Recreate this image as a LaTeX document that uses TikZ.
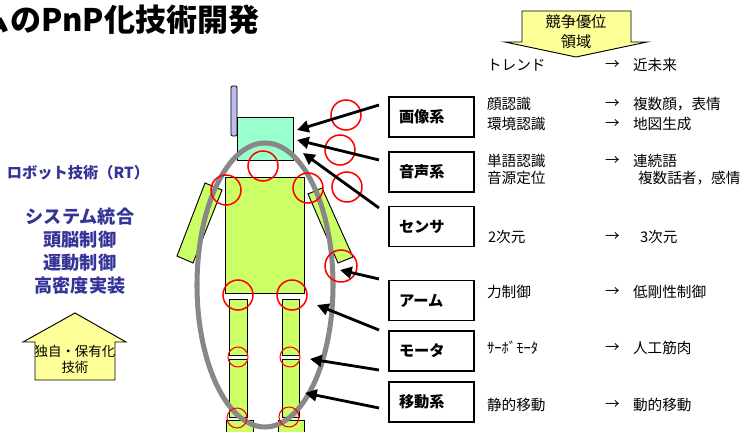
\documentclass[tikz,border=0pt]{standalone}
\usepackage{fontspec}
\setmainfont{Noto Sans CJK JP}
\usetikzlibrary{arrows.meta}
\definecolor{headgreen}{HTML}{99FFCC}
\definecolor{limbgreen}{HTML}{CCFF66}
\definecolor{antennablue}{HTML}{BCBCF0}
\definecolor{notepad}{HTML}{FFFF99}
\definecolor{rtblue}{HTML}{333399}
\definecolor{ringgray}{HTML}{888888}

\begin{document}
\begin{tikzpicture}[x=0.03cm,y=-0.03cm,inner sep=0pt,outer sep=0pt,
>={Triangle[length=10pt,width=10pt]},
sysbox/.style={draw,rectangle,fill=white,line width=1.3pt,minimum width=2.55cm,minimum height=1.2cm,
  text width=1.95cm,inner xsep=0.3cm,align=left,font=\fontsize{13}{15}\selectfont\bfseries},
txt/.style={anchor=west,font=\fontsize{12.5}{15}\selectfont},
part/.style={draw,line width=0.8pt,fill=limbgreen},
joint/.style={draw=red,line width=1.3pt},
smalljoint/.style={draw=red,line width=0.9pt},
pointer/.style={->,line width=2.4pt},
flag/.style={draw,line width=0.8pt,fill=notepad}]
\useasboundingbox (0,0) rectangle (744,432);

\draw (-21,32) node[anchor=base west,font=\fontsize{26.5}{30}\selectfont\bfseries] (title) {ムのPnP化技術開発};

% competitive area arrow and trend header
\draw[flag] (522,11) -- (631,11) -- (631,42) -- (647,42) -- (576,57) -- (505,42) -- (522,42) -- cycle;
\draw (576,32) node[align=center,font=\fontsize{13}{17}\selectfont] (area) {競争優位\\領域};
\draw (487,65) node[txt] (trend) {トレンド};
\draw (605,65) node[txt] (to0) {→};
\draw (633,65) node[txt] (future) {近未来};

% robot technology
\draw (78,173) node[text=rtblue,font=\fontsize{13}{16}\selectfont\bfseries] (rt) {ロボット技術（RT）};
\draw (80,251.5) node[text=rtblue,align=center,font=\fontsize{15.5}{19.6}\selectfont\bfseries] (rtlist) {システム統合\\頭脳制御\\運動制御\\高密度実装};
\draw[flag] (75,313) -- (126,342) -- (115,342) -- (115,380) -- (35,380) -- (35,342) -- (23,342) -- cycle;
\draw (75,359) node[align=center,font=\fontsize{11.5}{13.6}\selectfont] (own) {独自・保有化\\技術};

% robot body
\draw[part,fill=antennablue,rounded corners=1pt] (231,86) rectangle (237,136);
\draw[part,fill=headgreen] (237,117) rectangle (293,160);
\draw[part] (225,177) rectangle (304,293);
\draw[part] (205,183) -- (222,190) -- (193,263) -- (177,256) -- cycle;
\draw[part] (308,194) -- (322,188) -- (353,257) -- (338,263) -- cycle;
\draw[part] (229,299) rectangle (247,355);
\draw[part] (229,359) rectangle (247,417);
\draw[part] (226,420) rectangle (253,445);
\draw[part] (282,299) rectangle (299,355);
\draw[part] (282,359) rectangle (299,417);
\draw[part] (278,420) rectangle (304,445);
\draw[ringgray,line width=4.3pt] (265,285) ellipse [x radius=68,y radius=142];

\draw[joint] (346,115) circle [radius=15];
\draw[joint] (340,150) circle [radius=15];
\draw[joint] (347,187) circle [radius=15];
\draw[joint] (263,166) circle [radius=15];
\draw[joint] (226,190) circle [radius=15];
\draw[joint] (308,188) circle [radius=15];
\draw[joint] (341,266) circle [radius=16];
\draw[joint] (238,295) circle [radius=15];
\draw[joint] (292,295) circle [radius=15];
\draw[smalljoint] (238,357) circle [radius=10];
\draw[smalljoint] (290,357) circle [radius=10];
\draw[smalljoint] (237,418) circle [radius=10];
\draw[smalljoint] (289,417) circle [radius=10];

% subsystems
\draw (431.5,117) node[sysbox] (img) {画像系};
\draw (431.5,172) node[sysbox] (snd) {音声系};
\draw (431.5,226.5) node[sysbox] (sns) {センサ};
\draw (431.5,300.5) node[sysbox] (arm) {アーム};
\draw (431.5,351) node[sysbox] (mot) {モータ};
\draw (431.5,402) node[sysbox] (mov) {移動系};

\coordinate (imgtail) at (379,105);
\coordinate (sndtail) at (379,160);
\coordinate (snstail) at (379,208);
\coordinate (armtail) at (379,279);
\coordinate (hiptail) at (379,330);
\coordinate (mottail) at (379,370);
\coordinate (movtail) at (379,408);
\coordinate (eye) at (297,130);
\coordinate (ear) at (297,140);
\coordinate (chin) at (303,153);
\coordinate (hand) at (340,270);
\coordinate (hip) at (317,305);
\coordinate (knee) at (310,359);
\coordinate (ankle) at (305,393);
\draw[pointer] (imgtail) -- (eye);
\draw[pointer] (sndtail) -- (ear);
\draw[pointer] (snstail) -- (chin);
\draw[pointer] (armtail) -- (hand);
\draw[pointer] (hiptail) -- (hip);
\draw[pointer] (mottail) -- (knee);
\draw[pointer] (movtail) -- (ankle);

% trends per subsystem
\draw (487,104) node[txt] (face) {顔認識};
\draw (605,104) node[txt] (to1) {→};
\draw (633,104) node[txt] (multiface) {複数顔，表情};
\draw (487,124) node[txt] (env) {環境認識};
\draw (605,124) node[txt] (to2) {→};
\draw (633,124) node[txt] (mapgen) {地図生成};
\draw (487,161) node[txt] (word) {単語認識};
\draw (605,161) node[txt] (to3) {→};
\draw (633,161) node[txt] (contword) {連続語};
\draw (487,178) node[txt] (source) {音源定位};
\draw (638,178) node[txt] (multispk) {複数話者，感情};
\draw (488,237) node[txt] (dimtwo) {2次元};
\draw (605,237) node[txt] (to4) {→};
\draw (640,237) node[txt] (dimthree) {3次元};
\draw (487,292) node[txt] (force) {力制御};
\draw (605,292) node[txt] (to5) {→};
\draw (633,292) node[txt] (lowstiff) {低剛性制御};
\draw (487,348) node[txt] (servo) {ｻｰﾎﾞﾓｰﾀ};
\draw (605,348) node[txt] (to6) {→};
\draw (633,348) node[txt] (muscle) {人工筋肉};
\draw (487,405) node[txt] (staticwalk) {静的移動};
\draw (605,405) node[txt] (to7) {→};
\draw (633,405) node[txt] (dynwalk) {動的移動};
\end{tikzpicture}
\end{document}
